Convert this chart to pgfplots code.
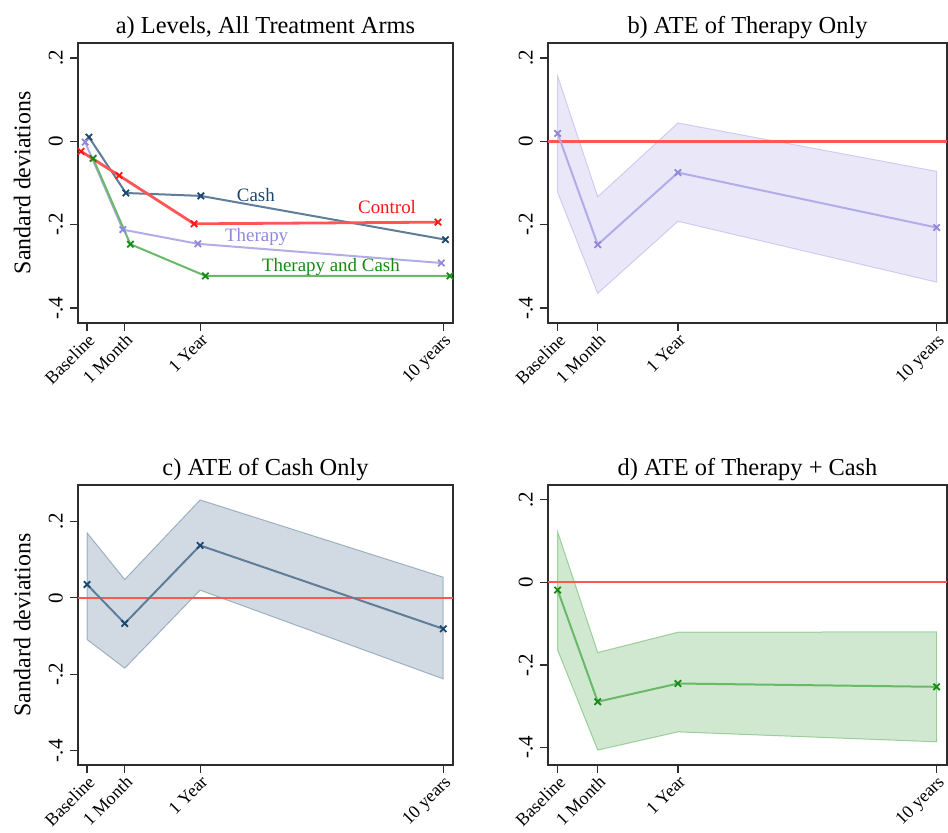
\documentclass[border=0pt]{standalone}
\usepackage{fontspec}
\setmainfont{Liberation Serif}
\usepackage{pgfplots}
\pgfplotsset{compat=1.18}

\definecolor{cashc}{RGB}{26,71,111}
\definecolor{cashl}{RGB}{95,125,152}
\definecolor{ctrl}{RGB}{255,20,20}
\definecolor{ctrll}{RGB}{255,85,85}
\definecolor{thc}{RGB}{145,135,220}
\definecolor{thl}{RGB}{178,172,232}
\definecolor{tcc}{RGB}{20,140,20}
\definecolor{tcl}{RGB}{105,185,105}
\definecolor{frame}{RGB}{45,45,45}

\pgfplotsset{
  panel/.style={
    scale only axis, width=375bp, height=280bp, anchor=south west,
    xmin=-0.24, xmax=9.71,
    xtick={0,1,3,9.45}, xticklabels={Baseline,1 Month,1 Year,10 years},
    ytick={-0.4,-0.2,0,0.2}, yticklabels={-.4,-.2,0,.2},
    axis line style={frame, line width=1.4bp},
    tick style={frame, line width=1.2bp},
    major tick length=8bp, tick align=outside,
    xtick pos=bottom, ytick pos=left,
    yticklabel style={font=\fontsize{21}{25}\selectfont, rotate=90, anchor=south, inner ysep=7bp},
    xticklabel style={font=\fontsize{18}{22}\selectfont, rotate=45, anchor=north east, inner sep=1bp},
    title style={font=\fontsize{24.5}{29}\selectfont, yshift=-5bp},
    /pgf/number format/assume math mode=true,
  },
  ylab/.style={
    ylabel={Sandard deviations},
    every axis y label/.style={at={(axis description cs:-0.149,0.5)}, rotate=90, anchor=center,
      font=\fontsize{24}{28}\selectfont},
  },
  band/.style={fill=#1, fill opacity=0.2, draw=#1, draw opacity=0.35, line width=1bp},
  zero/.style={ctrll, line width=2.5bp},
  pts/.style n args={2}{#1, line width=2bp, mark=x, mark size=4.5bp, mark options={#2, line width=1.8bp}},
}

\begin{document}
\begin{tikzpicture}[x=1bp,y=1bp]
\useasboundingbox (0,0) rectangle (948,833);

% a) levels
\begin{axis}[panel, ylab, at={(78bp,510bp)}, ymin=-0.436, ymax=0.236,
  title={a) Levels, All Treatment Arms}]
  \addplot[pts={cashl}{cashc}]
    coordinates {(0.05,0.010) (1.03,-0.124) (3.02,-0.131) (9.51,-0.236)};
  \addplot[pts={thl}{thc}]
    coordinates {(-0.05,-0.002) (0.95,-0.212) (2.94,-0.246) (9.40,-0.292)};
  \addplot[pts={tcl}{tcc}]
    coordinates {(0.16,-0.041) (1.15,-0.247) (3.14,-0.323) (9.63,-0.323)};
  \addplot[pts={ctrll}{ctrl}, line width=2.8bp]
    coordinates {(-0.16,-0.024) (0.85,-0.082) (2.84,-0.198) (9.31,-0.194)};
  \node[text=cashc, font=\fontsize{19}{23}\selectfont] at (axis cs:4.48,-0.128) {Cash};
  \node[text=ctrl, font=\fontsize{19}{23}\selectfont] at (axis cs:7.96,-0.157) {Control};
  \node[text=thc, font=\fontsize{19}{23}\selectfont] at (axis cs:4.50,-0.229) {Therapy};
  \node[text=tcc, font=\fontsize{19}{23}\selectfont] at (axis cs:6.47,-0.302) {Therapy and Cash};
\end{axis}

% b) therapy only
\begin{axis}[panel, width=399bp, at={(548bp,510bp)}, ymin=-0.436, ymax=0.236,
  title={b) ATE of Therapy Only}]
  \addplot[band=thc] coordinates {(0,0.157) (1,-0.133) (3,0.044) (9.45,-0.072)
    (9.45,-0.338) (3,-0.192) (1,-0.365) (0,-0.123)} -- cycle;
  \addplot[zero] coordinates {(-0.24,0) (9.71,0)};
  \addplot[pts={thl}{thc}]
    coordinates {(0,0.019) (1,-0.248) (3,-0.075) (9.45,-0.207)};
\end{axis}

% c) cash only
\begin{axis}[panel, ylab, at={(78bp,68bp)}, ymin=-0.437, ymax=0.295,
  title={c) ATE of Cash Only}]
  \addplot[band=cashc] coordinates {(0,0.170) (1,0.048) (3,0.256) (9.45,0.054)
    (9.45,-0.212) (3,0.020) (1,-0.184) (0,-0.109)} -- cycle;
  \addplot[zero] coordinates {(-0.24,0) (9.71,0)};
  \addplot[pts={cashl}{cashc}]
    coordinates {(0,0.035) (1,-0.067) (3,0.137) (9.45,-0.081)};
\end{axis}

% d) therapy + cash
\begin{axis}[panel, width=399bp, at={(548bp,68bp)}, ymin=-0.442, ymax=0.235,
  title={d) ATE of Therapy + Cash}]
  \addplot[band=tcc] coordinates {(0,0.122) (1,-0.170) (3,-0.121) (9.45,-0.120)
    (9.45,-0.386) (3,-0.362) (1,-0.406) (0,-0.164)} -- cycle;
  \addplot[zero] coordinates {(-0.24,0) (9.71,0)};
  \addplot[pts={tcl}{tcc}]
    coordinates {(0,-0.019) (1,-0.289) (3,-0.245) (9.45,-0.253)};
\end{axis}
\end{tikzpicture}
\end{document}
